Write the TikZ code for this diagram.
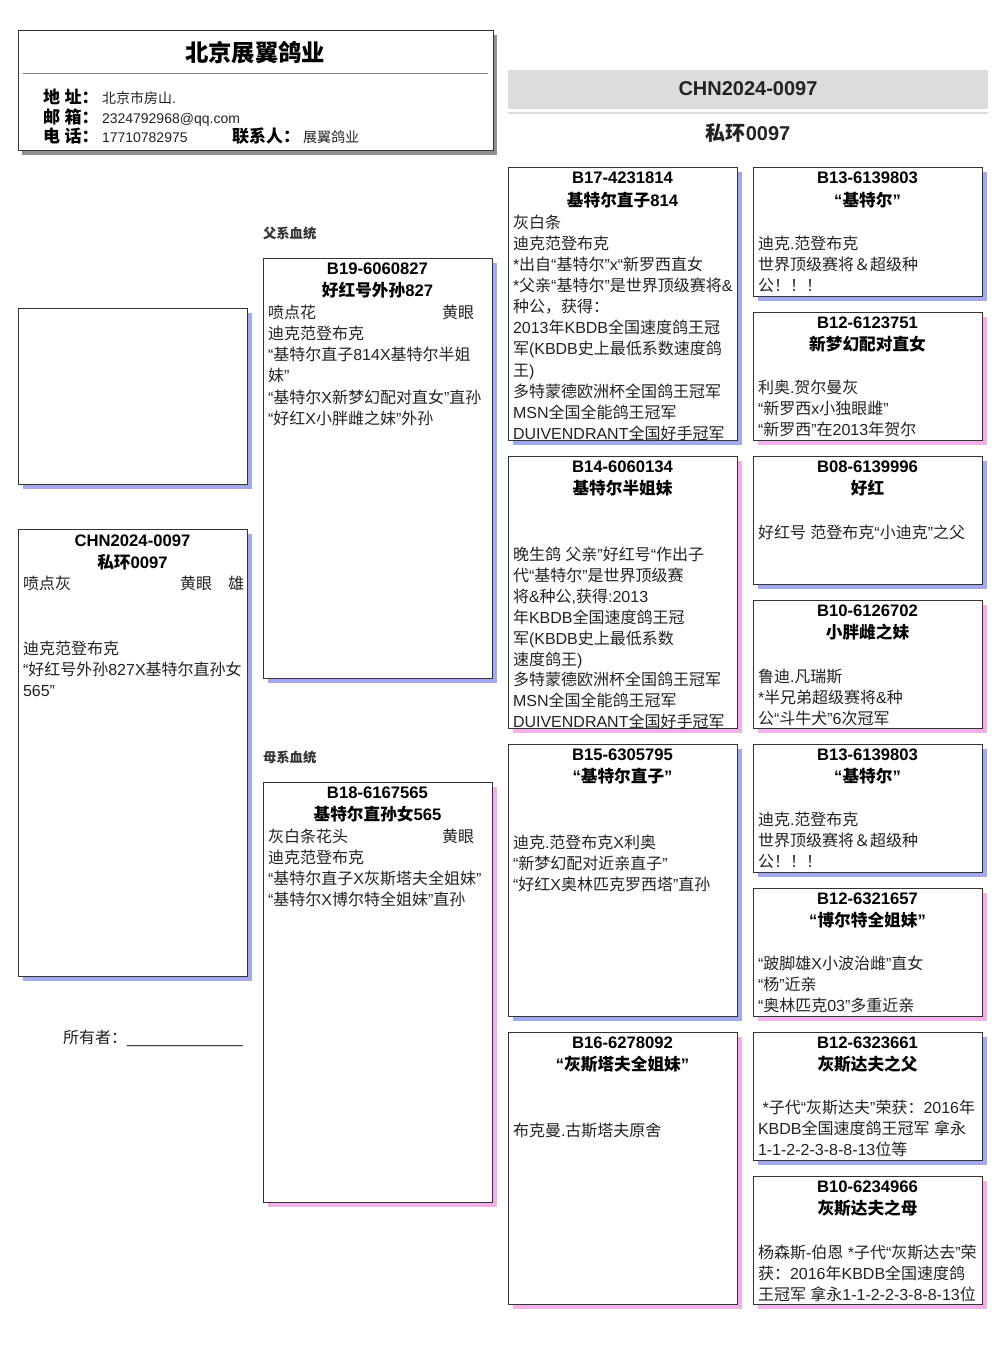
\documentclass[tikz,border=0pt]{standalone}
\usepackage{fontspec}
\setmainfont{Liberation Sans}
\newfontfamily\cjkfam{Noto Sans CJK SC}
\XeTeXinterchartokenstate=1
\newXeTeXintercharclass\cjkcls
\makeatletter
\def\setclsrange#1#2#3{\count@=#1\relax
  \loop\XeTeXcharclass\count@=#3\relax
  \ifnum\count@<#2\advance\count@\@ne\repeat}
\setclsrange{"0020}{"00FF}{0}
\setclsrange{"2000}{"206F}{0}
\setclsrange{"3000}{"303F}{\cjkcls}
\setclsrange{"3400}{"4DBF}{\cjkcls}
\setclsrange{"4E00}{"9FFF}{\cjkcls}
\setclsrange{"FF00}{"FFEF}{\cjkcls}
\makeatother
\XeTeXinterchartoks 0 \cjkcls = {\cjkfam}
\XeTeXinterchartoks 4095 \cjkcls = {\cjkfam}
\XeTeXinterchartoks \cjkcls 0 = {\rmfamily}
\XeTeXinterchartoks \cjkcls 4095 = {\rmfamily}

\definecolor{shblue}{RGB}{160,170,236}
\definecolor{shpink}{RGB}{242,176,234}
\definecolor{shgray}{RGB}{145,145,145}
\definecolor{bandgray}{RGB}{220,220,220}
\definecolor{linec}{RGB}{51,51,51}
\definecolor{txtc}{RGB}{34,34,34}

\tikzset{
  txt/.style={inner sep=0pt, outer sep=0pt, text=txtc, font=\fontsize{12}{14}\selectfont},
  ttl/.style={inner sep=0pt, outer sep=0pt, text=black, font=\fontsize{12.5}{15}\selectfont\bfseries},
  cardline/.style={draw=linec, fill=white, line width=0.75pt},
  sect/.style={inner sep=0pt, outer sep=0pt, text=linec, font=\fontsize{10}{12}\selectfont\bfseries},
  lab/.style={inner sep=0pt, outer sep=0pt, text=black, font=\fontsize{12.75}{15}\selectfont\bfseries},
  val/.style={inner sep=0pt, outer sep=0pt, text=txtc, font=\fontsize{10.5}{13}\selectfont},
  band/.style={inner sep=0pt, outer sep=0pt, text=txtc, font=\fontsize{15}{18}\selectfont\bfseries},
}

% #1 x, #2 y, #3 w, #4 h, #5 shadow colour
\newcommand\cardbox[5]{%
  \fill[#5] ({#1+4.5},{#2+4.5}) rectangle ++(#3,#4);
  \path[cardline] (#1,#2) rectangle ++(#3,#4);}
% #1 name, #2 x, #3 first baseline, #4 spacing, #5 lines
\newcommand\bodylines[5]{%
  \foreach \t [count=\i from 0] in {#5} {\node[txt,anchor=base west] (#1-\i) at (#2,{#3+\i*#4}) {\t};}}
% #1 name, #2 centre x, #3 top, #4 id, #5 name line
\newcommand\cardtitle[5]{%
  \node[ttl,anchor=base] (#1-a) at (#2,{#3+16}) {#4};
  \node[ttl,anchor=base] (#1-b) at (#2,{#3+38}) {#5};}

\begin{document}
\begin{tikzpicture}[x=0.75pt,y=-0.75pt]
\useasboundingbox (0,0) rectangle (1006,1366);
\fill[white] (0,0) rectangle (1006,1366);

% ---------- header ----------
\fill[shgray] (22,35) rectangle (497,155);
\path[cardline] (18,31) rectangle (493,151);
\node[inner sep=0pt, font=\fontsize{17.5}{20}\selectfont\bfseries, anchor=base] (htitle) at (255,61.5) {北京展翼鸽业};
\draw[draw=gray, line width=0.75pt] (23,74) -- (488,74);
\node[lab,anchor=base west] (l1) at (43,104) {地 址：};
\node[val,anchor=base west] (v1) at (102,104) {北京市房山.};
\node[lab,anchor=base west] (l2) at (43,123.5) {邮 箱：};
\node[val,anchor=base west] (v2) at (102,123.5) {2324792968@qq.com};
\node[lab,anchor=base west] (l3) at (43,143) {电 话：};
\node[val,anchor=base west] (v3) at (102,143) {17710782975};
\node[lab,anchor=base west] (l4) at (232,143) {联系人：};
\node[val,anchor=base west] (v4) at (303,143) {展翼鸽业};

% ---------- band ----------
\fill[bandgray] (508,70) rectangle (988,109);
\draw[draw=bandgray, line width=2pt] (508,113) -- (988,113);
\node[band,anchor=base] (ring) at (748,96) {CHN2024-0097};
\node[band,anchor=base] (pname) at (748,140.5) {私环0097};

% ---------- left column ----------
\cardbox{18}{308}{229}{176}{shblue}
\cardbox{18}{529}{229}{447}{shblue}
\cardtitle{subj}{132.5}{530}{CHN2024-0097}{私环0097}
\node[txt,anchor=base west] (subj-c) at (23,589) {喷点灰};
\node[txt,anchor=base west] (subj-e) at (180,589) {黄眼};
\node[txt,anchor=base west] (subj-s) at (228,589) {雄};
\bodylines{subj}{23}{654}{21.3}{迪克范登布克,“好红号外孙827X基特尔直孙女,565”}
\node[txt,anchor=base west] (owner) at (63,1043) {所有者：};
\node[txt,anchor=base west] (ownerline) at (127,1043) {\_\_\_\_\_\_\_\_\_\_\_\_\_};

% ---------- parents ----------
\node[sect,anchor=base west] (sirelab) at (263,238) {父系血统};
\cardbox{263}{258}{229}{420}{shblue}
\cardtitle{sire}{377.5}{258}{B19-6060827}{好红号外孙827}
\node[txt,anchor=base west] (sire-c) at (268,318) {喷点花};
\node[txt,anchor=base west] (sire-e) at (442,318) {黄眼};
\bodylines{sire}{268}{339.3}{21.3}{迪克范登布克,“基特尔直子814X基特尔半姐,妹”,“基特尔X新梦幻配对直女”直孙,“好红X小胖雌之妹”外孙}

\node[sect,anchor=base west] (damlab) at (263,762) {母系血统};
\cardbox{263}{782}{229}{420}{shpink}
\cardtitle{dam}{377.5}{782}{B18-6167565}{基特尔直孙女565}
\node[txt,anchor=base west] (dam-c) at (268,842) {灰白条花头};
\node[txt,anchor=base west] (dam-e) at (442,842) {黄眼};
\bodylines{dam}{268}{863.3}{21.3}{迪克范登布克,“基特尔直子X灰斯塔夫全姐妹”,“基特尔X博尔特全姐妹”直孙}

% ---------- grandparents ----------
\cardbox{508}{168}{229}{272}{shblue}
\cardtitle{b17}{622.5}{168}{B17-4231814}{基特尔直子814}
\bodylines{b17}{513}{228.3}{21.1}{灰白条,迪克范登布克,*出自“基特尔”x“新罗西直女,*父亲“基特尔”是世界顶级赛将\&,种公，获得：,2013年KBDB全国速度鸽王冠,军(KBDB史上最低系数速度鸽,王),多特蒙德欧洲杯全国鸽王冠军,MSN全国全能鸽王冠军,DUIVENDRANT全国好手冠军}

\cardbox{508}{456}{229}{272}{shpink}
\cardtitle{b14}{622.5}{456}{B14-6060134}{基特尔半姐妹}
\bodylines{b14}{513}{560.5}{20.9}{晚生鸽 父亲”好红号“作出子,代“基特尔”是世界顶级赛,{将\&种公,获得:2013},年KBDB全国速度鸽王冠,军(KBDB史上最低系数,速度鸽王),多特蒙德欧洲杯全国鸽王冠军,MSN全国全能鸽王冠军,DUIVENDRANT全国好手冠军}

\cardbox{508}{744}{229}{272}{shblue}
\cardtitle{b15}{622.5}{744}{B15-6305795}{“基特尔直子”}
\bodylines{b15}{513}{848.5}{21.1}{迪克.范登布克X利奥,“新梦幻配对近亲直子”,“好红X奥林匹克罗西塔”直孙}

\cardbox{508}{1032}{229}{272}{shpink}
\cardtitle{b16}{622.5}{1032}{B16-6278092}{“灰斯塔夫全姐妹”}
\bodylines{b16}{513}{1136.5}{21.1}{布克曼.古斯塔夫原舍}

% ---------- great-grandparents ----------
\cardbox{753}{168}{229}{128}{shblue}
\cardtitle{c1}{867.5}{168}{B13-6139803}{“基特尔”}
\bodylines{c1}{758}{249.5}{21.1}{迪克.范登布克,世界顶级赛将＆超级种,公！！！}

\cardbox{753}{312}{229}{128}{shpink}
\cardtitle{c2}{867.5}{312}{B12-6123751}{新梦幻配对直女}
\bodylines{c2}{758}{393.5}{21.1}{利奥.贺尔曼灰,“新罗西x小独眼雌”,“新罗西”在2013年贺尔}

\cardbox{753}{456}{229}{128}{shblue}
\cardtitle{c3}{867.5}{456}{B08-6139996}{好红}
\bodylines{c3}{758}{538.5}{21.1}{好红号 范登布克“小迪克”之父}

\cardbox{753}{600}{229}{128}{shpink}
\cardtitle{c4}{867.5}{600}{B10-6126702}{小胖雌之妹}
\bodylines{c4}{758}{682.5}{21.1}{鲁迪.凡瑞斯,*半兄弟超级赛将\&种,公“斗牛犬”6次冠军}

\cardbox{753}{744}{229}{128}{shblue}
\cardtitle{c5}{867.5}{744}{B13-6139803}{“基特尔”}
\bodylines{c5}{758}{825.5}{21.1}{迪克.范登布克,世界顶级赛将＆超级种,公！！！}

\cardbox{753}{888}{229}{128}{shpink}
\cardtitle{c6}{867.5}{888}{B12-6321657}{“博尔特全姐妹”}
\bodylines{c6}{758}{969.5}{21.1}{“跛脚雄X小波治雌”直女,“杨”近亲,“奥林匹克03”多重近亲}

\cardbox{753}{1032}{229}{128}{shblue}
\cardtitle{c7}{867.5}{1032}{B12-6323661}{灰斯达夫之父}
\bodylines{c7}{758}{1113.5}{21.1}{\hspace{3.5pt}*子代“灰斯达夫”荣获：2016年,KBDB全国速度鸽王冠军 拿永,1-1-2-2-3-8-8-13位等}

\cardbox{753}{1176}{229}{128}{shpink}
\cardtitle{c8}{867.5}{1176}{B10-6234966}{灰斯达夫之母}
\bodylines{c8}{758}{1258}{21.1}{杨森斯-伯恩 *子代“灰斯达去”荣,获：2016年KBDB全国速度鸽,王冠军 拿永1-1-2-2-3-8-8-13位}
\end{tikzpicture}
\end{document}
